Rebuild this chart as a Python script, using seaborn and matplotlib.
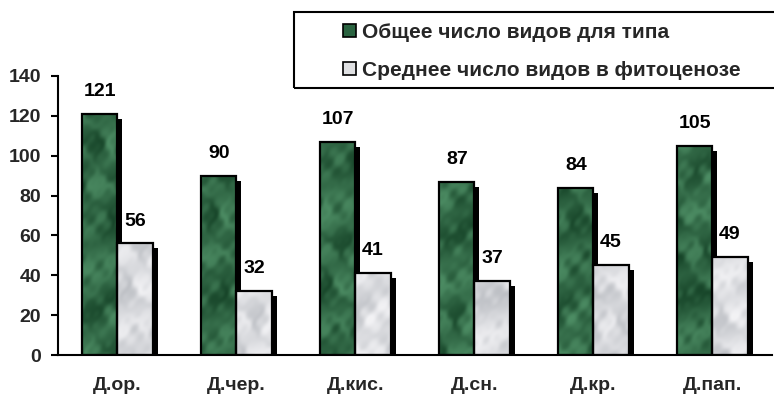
import numpy as np
import pandas as pd
import matplotlib
matplotlib.use("Agg")
import matplotlib.pyplot as plt
import matplotlib.transforms as mtransforms
from matplotlib.patches import Rectangle, Patch
import seaborn as sns

categories = ["Д.ор.", "Д.чер.", "Д.кис.", "Д.сн.", "Д.кр.", "Д.пап."]
total_species = [121, 90, 107, 87, 84, 105]
mean_species = [56, 32, 41, 37, 45, 49]
series_names = ["Общее число видов для типа", "Среднее число видов в фитоценозе"]
y_ticks = [0, 20, 40, 60, 80, 100, 120, 140]

df = pd.DataFrame({
    "type": categories * 2,
    "value": total_species + mean_species,
    "series": [series_names[0]] * len(categories) + [series_names[1]] * len(categories),
})

sns.set_style("white")
plt.rcParams["font.family"] = ["Liberation Sans", "DejaVu Sans"]
plt.rcParams["font.weight"] = "bold"

W, H = 774, 398
fig = plt.figure(figsize=(W / 100, H / 100), dpi=100)
ax = fig.add_axes([58 / W, 1 - 355 / H, (772 - 58) / W, (355 - 76) / H])

base_colors = {series_names[0]: "#2a6340", series_names[1]: "#dfe0e2"}
sns.barplot(data=df, x="type", y="value", hue="series", order=categories,
            hue_order=series_names, palette=base_colors, width=0.59,
            saturation=1, edgecolor="black", linewidth=1.6, legend=False,
            ax=ax, zorder=3)


def marble(h, w, phase):
    yy, xx = np.mgrid[0:h, 0:w].astype(float)
    yy /= 26.0
    xx /= 26.0
    turb = (np.sin(xx * 1.3 + yy * 0.7 + phase) * 0.9
            + np.sin(xx * 2.9 - yy * 1.9 + 1.3 * phase) * 0.6
            + np.sin(xx * 6.1 + yy * 4.7 + 0.7 * phase) * 0.35
            + np.sin(xx * 11.3 - yy * 8.9 + 2.1 * phase) * 0.2)
    v = np.sin((xx + yy * 1.3) * 1.6 + turb * 2.0)
    v2 = np.sin((xx * 1.1 - yy * 0.8) * 2.3 + turb * 1.5 + phase)
    return np.clip(0.5 + 0.22 * v + 0.18 * v2 + 0.08 * turb, 0, 1)


tex_palettes = {
    0: (np.array([0.09, 0.27, 0.16]), np.array([0.30, 0.55, 0.39])),
    1: (np.array([0.74, 0.75, 0.77]), np.array([0.95, 0.95, 0.96])),
}

shadow_shift = mtransforms.ScaledTranslation(0.05, -0.05, fig.dpi_scale_trans)
for k, container in enumerate(ax.containers):
    dark, light = tex_palettes[k]
    for i, bar in enumerate(container.patches):
        x0, w, h = bar.get_x(), bar.get_width(), bar.get_height()
        # drop shadow behind each bar
        shadow = Rectangle((x0, 0), w, h, facecolor="black", edgecolor="none",
                           transform=ax.transData + shadow_shift, zorder=2)
        ax.add_patch(shadow)
        # marbled fill clipped to the bar outline
        t = marble(int(h * 2) + 2, 36, phase=1.7 * i + 3.1 * k)[..., None]
        img = dark * (1 - t) + light * t
        im = ax.imshow(img, extent=[x0, x0 + w, 0, h], aspect="auto",
                       origin="lower", zorder=3, interpolation="bilinear")
        im.set_clip_path(bar)
        bar.set_facecolor("none")
        bar.set_zorder(4)
    ax.bar_label(container, fmt="%d", padding=10, fontsize=14,
                 fontweight="bold", color="black")

ax.set_xlim(-0.5, len(categories) - 0.5)
ax.set_ylim(0, 140)
ax.set_yticks(y_ticks)
ax.set_xlabel("")
ax.set_ylabel("")

for side in ("top", "right"):
    ax.spines[side].set_visible(False)
for side in ("left", "bottom"):
    ax.spines[side].set_linewidth(1.5)
    ax.spines[side].set_color("black")
    ax.spines[side].set_zorder(5)

ax.set_xticks(np.arange(-0.5, len(categories)), minor=True)
ax.tick_params(axis="x", which="major", length=0, pad=15.5, labelsize=14)
ax.tick_params(axis="x", which="minor", length=5, width=1.5, direction="out",
               color="black")
ax.tick_params(axis="y", length=5, width=1.5, direction="out", color="black",
               pad=7, labelsize=14, left=True)
for lbl in ax.get_xticklabels() + ax.get_yticklabels():
    lbl.set_fontweight("bold")

# legend frame and entries
fig.patches.append(Rectangle((294 / W, 1 - 88 / H), (W - 294) / W + 0.01, 76 / H,
                             transform=fig.transFigure, fill=False,
                             edgecolor="black", linewidth=1.5))
handles = [Patch(facecolor=base_colors[n], edgecolor="black", linewidth=1.2)
           for n in series_names]
fig.legend(handles=handles, labels=series_names, loc="upper left",
           bbox_to_anchor=(343 / W, 1 - 23 / H), frameon=False, borderpad=0,
           borderaxespad=0, handlelength=0.62, handleheight=0.62,
           handletextpad=0.3, labelspacing=0.9,
           prop={"size": 15, "weight": "bold"})

fig.savefig("out.png", dpi=100)
